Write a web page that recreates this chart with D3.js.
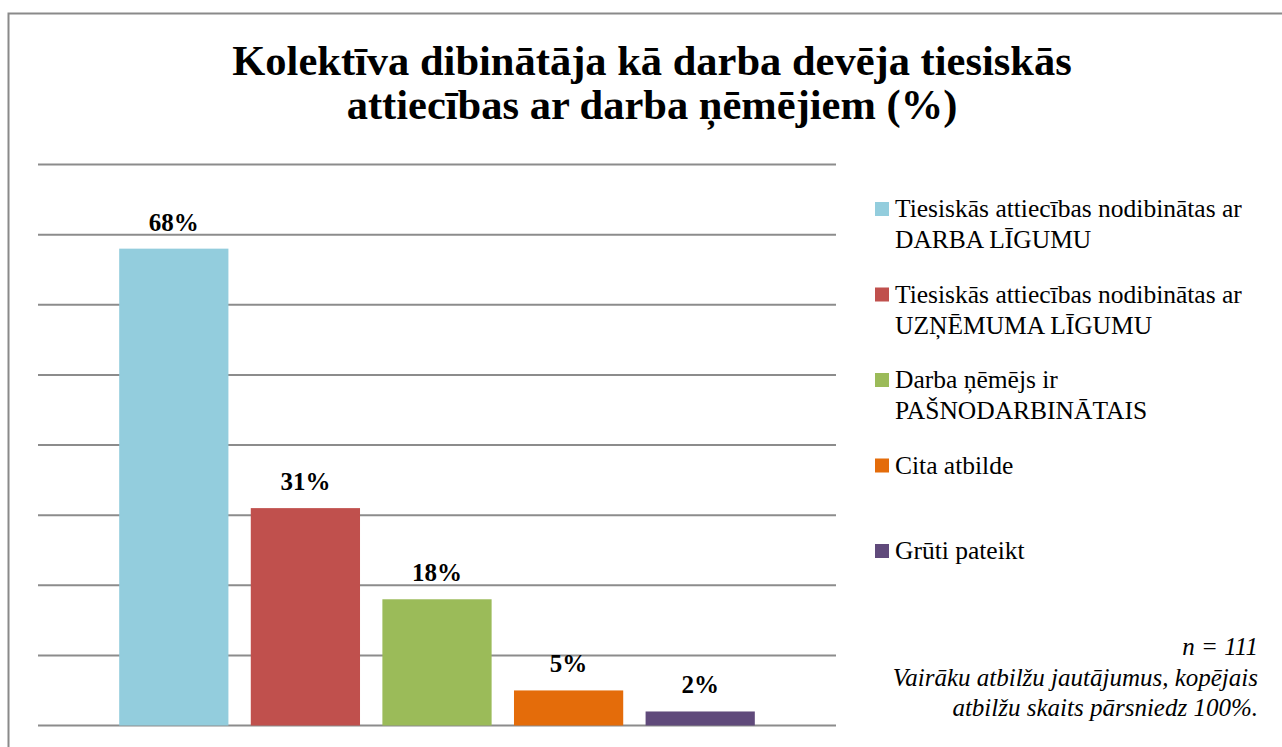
<!DOCTYPE html>
<html>
<head>
<meta charset="UTF-8">
<style>
  @font-face { font-family: "ChartSerif"; font-weight: normal; font-style: normal;
    src: local("Liberation Serif"), local("LiberationSerif"), local("Times New Roman"); }
  @font-face { font-family: "ChartSerif"; font-weight: bold; font-style: normal;
    src: local("Liberation Serif Bold"), local("LiberationSerif-Bold"), local("Times New Roman Bold"); }
  @font-face { font-family: "ChartSerif"; font-weight: normal; font-style: italic;
    src: local("Liberation Serif Italic"), local("LiberationSerif-Italic"), local("Times New Roman Italic"); }
  body { margin: 0; }
  svg text { font-family: "Liberation Serif", "ChartSerif", "Times New Roman", Tinos, serif; }
</style>
</head>
<body>
<script src="https://d3js.org/d3.v7.min.js"></script>
<script>
// data
var categories = [
    "Tiesiskās attiecības nodibinātas ar DARBA LĪGUMU",
    "Tiesiskās attiecības nodibinātas ar UZŅĒMUMA LĪGUMU",
    "Darba ņēmējs ir PAŠNODARBINĀTAIS",
    "Cita atbilde",
    "Grūti pateikt"
];
var legendLines = [
    ["Tiesiskās attiecības nodibinātas ar", "DARBA LĪGUMU"],
    ["Tiesiskās attiecības nodibinātas ar", "UZŅĒMUMA LĪGUMU"],
    ["Darba ņēmējs ir", "PAŠNODARBINĀTAIS"],
    ["Cita atbilde"],
    ["Grūti pateikt"]
];
var values = [68, 31, 18, 5, 2];
var colors = ["#93CDDD", "#C0504D", "#9BBB59", "#E46C0A", "#604A7B"];
var gridTicks = [0, 10, 20, 30, 40, 50, 60, 70, 80];
var titleLines = ["Kolektīva dibinātāja kā darba devēja tiesiskās", "attiecības ar darba ņēmējiem (%)"];
var noteLines = ["n = 111", "Vairāku atbilžu jautājumus, kopējais", "atbilžu skaits pārsniedz 100%."];

var W = 1282, H = 747;
var FONT = "'Liberation Serif', ChartSerif, 'Times New Roman', Tinos, serif";

var svg = d3.select("body").append("svg")
    .attr("width", W).attr("height", H)
    .style("display", "block");

// outer frame (goes past right and bottom edges)
svg.append("rect")
    .attr("x", 8.5).attr("y", 13.5)
    .attr("width", W + 10).attr("height", H + 10)
    .attr("fill", "none").attr("stroke", "#8a8a8a").attr("stroke-width", 2);

// title
titleLines.forEach(function (l, i) {
    svg.append("text")
        .attr("x", 652).attr("y", 75 + i * 44)
        .attr("font-size", 42.5).attr("font-weight", "bold")
        .style("font-family", FONT)
        .style("text-anchor", "middle")
        .text(l);
});

// scales
var gridLeft = 38, gridRight = 836;
var x = d3.scaleBand()
    .domain(categories)
    .range([108, 766])
    .paddingInner(0.17).paddingOuter(0.085);
var y = d3.scaleLinear()
    .domain([0, 80])
    .range([725.5, 164.5]);

// gridlines
svg.append("g").selectAll("line").data(gridTicks).enter().append("line")
    .attr("x1", gridLeft).attr("x2", gridRight)
    .attr("y1", function (d) { return y(d); })
    .attr("y2", function (d) { return y(d); })
    .attr("stroke", "#8c8c8c").attr("stroke-width", 2);

// bars
svg.append("g").selectAll("rect").data(values).enter().append("rect")
    .attr("x", function (d, i) { return x(categories[i]); })
    .attr("width", x.bandwidth())
    .attr("y", function (d) { return y(d); })
    .attr("height", function (d) { return y(0) - y(d); })
    .attr("fill", function (d, i) { return colors[i]; });

// value labels
values.forEach(function (d, i) {
    svg.append("text")
        .attr("x", x(categories[i]) + x.bandwidth() / 2)
        .attr("y", y(d) - 18)
        .attr("font-size", 25).attr("font-weight", "bold")
        .style("font-family", FONT)
        .style("text-anchor", "middle")
        .text(d + "%");
});

// legend
legendLines.forEach(function (lines, i) {
    var base = 217 + i * 85.5;
    svg.append("rect")
        .attr("x", 875).attr("y", base - 15)
        .attr("width", 14).attr("height", 14)
        .attr("fill", colors[i]);
    lines.forEach(function (l, j) {
        svg.append("text")
            .attr("x", 895).attr("y", base + j * 31)
            .attr("font-size", 25.5)
            .style("font-family", FONT)
            .text(l);
    });
});

// note
noteLines.forEach(function (l, j) {
    svg.append("text")
        .attr("x", 1258).attr("y", 655 + j * 30.5)
        .attr("font-size", 25).attr("font-style", "italic")
        .style("font-family", FONT)
        .style("text-anchor", "end")
        .text(l);
});
</script>
</body>
</html>
